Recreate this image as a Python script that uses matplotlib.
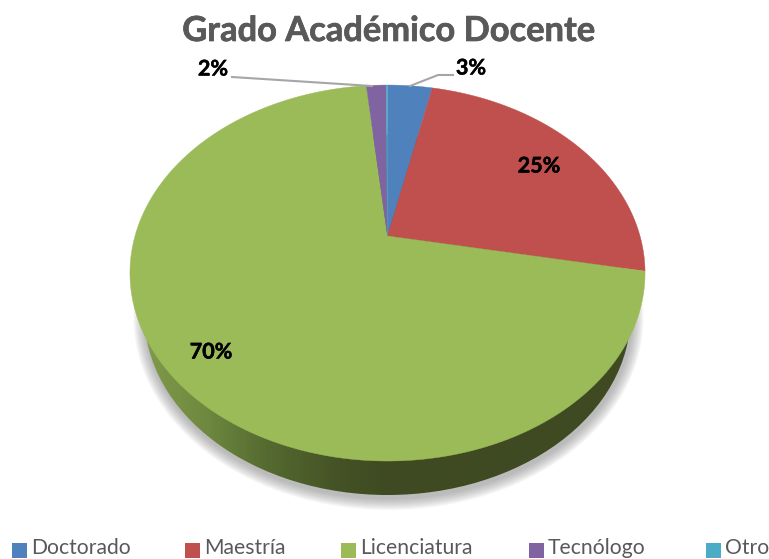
import numpy as np
import matplotlib
matplotlib.use('Agg')
import matplotlib.pyplot as plt
import matplotlib.patheffects as pe
from matplotlib.patches import Ellipse, Rectangle
from matplotlib.colors import LinearSegmentedColormap

plt.rcParams['font.family'] = ['Lato', 'DejaVu Sans']

# data
categories = ['Doctorado', 'Maestría', 'Licenciatura', 'Tecnólogo', 'Otro']
values = [3.4, 24.6, 70.4, 1.5, 0.1]
colors = ['#4f81bd', '#c0504d', '#9bbb59', '#8064a2', '#4bacc6']
title = 'Grado Académico Docente'

# where the pie sits, in pixels
cx, cy = 387.5, 236
rx, ry = 252.5, 180.7
persp = 0.197
# bottom face of the disc
base_y, base_rx, base_ry = 315, 243, 180

fig = plt.figure(figsize=(7.69, 5.59), dpi=100)
ax = fig.add_axes([0, 0, 1, 1])
ax.set_xlim(0, 769)
ax.set_ylim(559, 0)
ax.axis('off')

def project(theta) :
	x = np.sin(theta)
	y = np.cos(theta)
	w = 1 + persp * y
	return cx + rx * x / w, cy - ry * y / w

def bold_fx(w) :
	return [pe.withStroke(linewidth=w, foreground='black')]

# soft shadow under the pie
for i in range(12) :
	grow = 12 - i
	ax.add_patch(Ellipse((cx + 1, base_y + 3), 2 * (base_rx + grow), 2 * (base_ry + grow), fc='#7f7f7f', ec='none', alpha=0.055, zorder=1))

# side wall
wall = Ellipse((cx, base_y), 2 * base_rx, 2 * base_ry, fc='none', ec='none', zorder=2)
ax.add_patch(wall)
side_cmap = LinearSegmentedColormap.from_list('side', [(0, '#80994a'), (0.12, '#6f8a40'), (0.25, '#556a30'), (0.4, '#445225'), (0.5, '#3f4a22'), (1, '#3f4a22')])
grad = ax.imshow(np.linspace(0, 1, 512)[None, :], cmap=side_cmap, extent=(cx - base_rx, cx + base_rx, 559, 0), aspect='auto', zorder=2)
grad.set_clip_path(wall)
ax.set_xlim(0, 769)
ax.set_ylim(559, 0)

# top face slices
start = 0.
edges = np.cumsum(values) / np.sum(values) * 2 * np.pi
for val, col, end in zip(values, colors, edges) :
	a = np.linspace(start, end, 200)
	px, py = project(a)
	ax.fill(np.r_[cx, px], np.r_[cy, py], color=col, lw=0.3, zorder=3)
	start = end

# labels
def pct(v) :
	return '%d%%' % round(v)

for val, lx, ly in zip([values[1], values[2], values[0], values[3]], [539, 211, 471, 213], [166, 352, 68, 69]) :
	ax.text(lx, ly, pct(val), ha='center', va='center', fontsize=15.5, fontweight='bold', color='black', zorder=5, path_effects=bold_fx(0.35))

# leader lines
ax.plot([410, 438, 453], [86, 75, 75], color='#a6a6a6', lw=1.5, zorder=4)
ax.plot([232, 372], [77, 86], color='#a6a6a6', lw=1.5, zorder=4)

ax.text(389, 31, title, ha='center', va='center', fontsize=24.8, fontweight='bold', color='#595959', path_effects=[pe.withStroke(linewidth=0.5, foreground='#595959')])

# legend
for name, col, bx in zip(categories, colors, [12, 185, 341, 529, 706]) :
	ax.add_patch(Rectangle((bx, 543), 15, 15, fc=col, ec='none'))
	ax.text(bx + 19, 554.5, name, ha='left', va='baseline', fontsize=15.2, color='#595959')

fig.savefig('out.png', dpi=100)
